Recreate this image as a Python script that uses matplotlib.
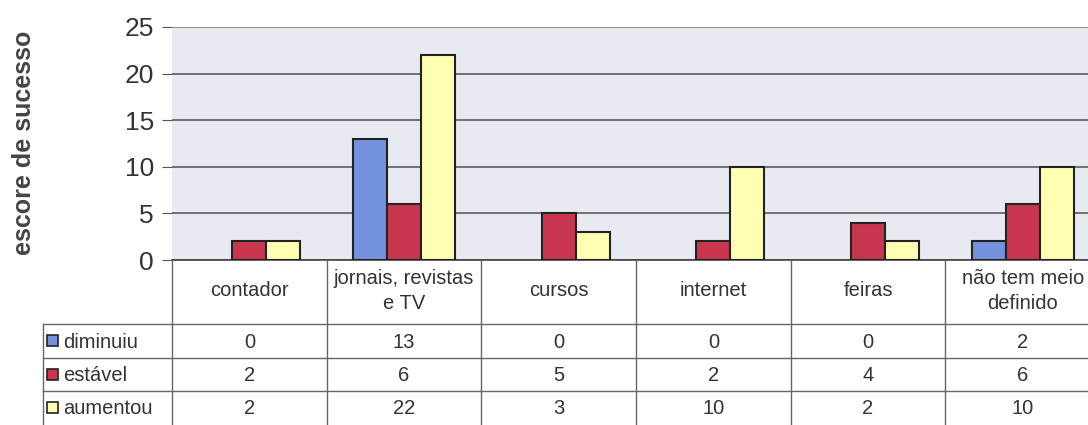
import numpy as np
import matplotlib.pyplot as plt
from matplotlib.patches import Rectangle

plt.rcParams['font.family'] = ['Liberation Sans', 'DejaVu Sans']

categories = ['contador', 'jornais, revistas\ne TV', 'cursos', 'internet', 'feiras',
              'não tem meio\ndefinido']
series = ['diminuiu', 'estável', 'aumentou']
diminuiu = [0, 13, 0, 0, 0, 2]
estavel = [2, 6, 5, 2, 4, 6]
aumentou = [2, 22, 3, 10, 2, 10]
values = [diminuiu, estavel, aumentou]
colors = ['#7393dc', '#c9374f', '#ffffb4']

W, H = 1088, 425
fig = plt.figure(figsize=(W / 100, H / 100), dpi=100)

# plot area in pixels
x0, x1, ytop, ybot = 172, 1100, 27, 260
ax = fig.add_axes([x0 / W, 1 - ybot / H, (x1 - x0) / W, (ybot - ytop) / H])
ax.set_facecolor('#e7eaf0')

n = len(categories)
x = np.arange(n)
bw = 0.22
for i, (vals, c) in enumerate(zip(values, colors)):
    lws = [1.5 if v > 0 else 0 for v in vals]
    ax.bar(x + (i - 1) * bw, vals, bw, color=c, edgecolor='#222222', linewidth=lws, zorder=3)

ax.set_xlim(-0.5, n - 0.5)
ax.set_ylim(0, 25)
ax.set_yticks(range(0, 26, 5))
ax.yaxis.grid(True, color='#505050', linewidth=1.1, zorder=1)
ax.tick_params(axis='y', labelsize=19, length=7, color='#555555', pad=6, labelcolor='#333333')
ax.set_xticks([])
for s in ['right', 'left']:
    ax.spines[s].set_visible(False)
ax.spines['bottom'].set_color('#444444')
ax.spines['bottom'].set_linewidth(1.2)
ax.spines['top'].set_color('#999999')
ax.spines['top'].set_linestyle(':')

fig.text(24 / W, 1 - 143 / H, 'escore de sucesso', rotation=90, fontsize=18,
         fontweight='bold', color='#444444', ha='center', va='center')

# data table drawn in pixel coordinates
tab = fig.add_axes([0, 0, 1, 1])
tab.set_xlim(0, W)
tab.set_ylim(H, 0)
tab.axis('off')

colw = (x1 - x0) / n
cols = [x0 + k * colw for k in range(n + 1)]
rows = [ybot, 324, 358, 391, 425]
lx = 43
lc = '#666666'
fs = 14.5

for k in range(n + 1):
    tab.plot([cols[k], cols[k]], [ybot, H], color=lc, lw=1)
tab.plot([lx, lx], [rows[1], H], color=lc, lw=1)
for r in rows[1:4]:
    tab.plot([lx, W], [r, r], color=lc, lw=1)

for k, cat in enumerate(categories):
    cx = (cols[k] + cols[k + 1]) / 2
    tab.text(cx, (rows[0] + rows[1]) / 2 - 1, cat, ha='center', va='center',
             fontsize=fs, color='#333333', linespacing=1.45)

for j, (name, vals, c) in enumerate(zip(series, values, colors)):
    cy = (rows[j + 1] + rows[j + 2]) / 2
    tab.add_patch(Rectangle((lx + 4, cy - 6), 11, 11, facecolor=c,
                            edgecolor='#222222', lw=1.2))
    tab.text(lx + 20, cy + 1, name, ha='left', va='center', fontsize=fs, color='#333333')
    for k, v in enumerate(vals):
        cx = (cols[k] + cols[k + 1]) / 2
        tab.text(cx, cy + 1, str(v), ha='center', va='center', fontsize=fs, color='#333333')

fig.savefig('out.png', dpi=100)
